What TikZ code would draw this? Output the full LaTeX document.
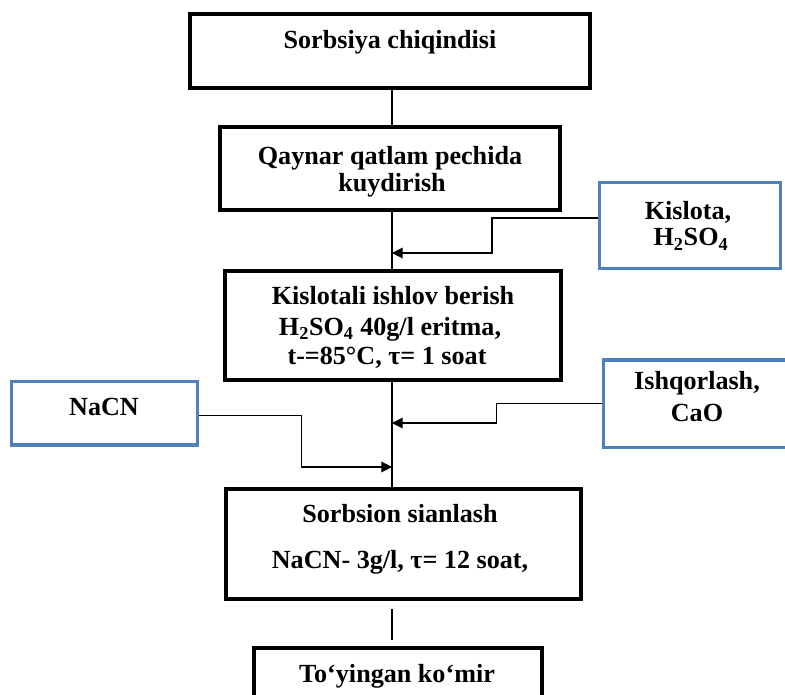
\documentclass[tikz,border=0pt]{standalone}
\usepackage{fontspec}
\setmainfont{Liberation Serif}
\usetikzlibrary{arrows.meta}
\definecolor{inblue}{RGB}{79,129,189}
\tikzset{every picture/.style={line width=0.75pt}}
\tikzset{
	stage/.style={draw=black, line width=3pt, inner sep=0pt},
	input/.style={draw=inblue, line width=2.4pt, inner sep=0pt},
	txt/.style={anchor=base, inner sep=0pt, font=\fontsize{19.6}{23}\selectfont\bfseries},
	flow/.style={draw=black, line width=0.9pt},
	feed/.style={flow, -{Triangle[length=8pt,width=8pt]}}
}

\begin{document}
\begin{tikzpicture}[x=0.75pt,y=0.75pt,yscale=-1,xscale=1]
	\useasboundingbox (0,0) rectangle (785,695);
	\clip (0,0) rectangle (785,695);

	%Process boxes
	\node[stage, minimum width=300pt, minimum height=55.5pt] (sorb) at (390,51) {};
	\node[stage, minimum width=255pt, minimum height=62.25pt] (kuyd) at (390,168.5) {};
	\node[stage, minimum width=252pt, minimum height=81.75pt] (kisl) at (393,325.5) {};
	\node[stage, minimum width=266.25pt, minimum height=82.5pt] (sian) at (403.5,544) {};
	\node[stage, minimum width=216pt, minimum height=69pt] (komir) at (398,694) {};

	%Input boxes
	\node[input, minimum width=135.75pt, minimum height=64.5pt] (acid) at (690,225.5) {};
	\node[input, minimum width=147.4pt, minimum height=65.6pt] (alk) at (701.75,403.75) {};
	\node[input, minimum width=139.5pt, minimum height=47.6pt] (nacn) at (104.5,413.25) {};

	%Texts
	\node[txt] (t1) at (390,49) {Sorbsiya chiqindisi};
	\node[txt] (t2a) at (390,165) {Qaynar qatlam pechida};
	\node[txt] (t2b) at (392,192) {kuydirish};
	\node[txt] (t3a) at (393,305) {Kislotali ishlov berish};
	\node[txt] (t3b) at (390,335) {H\textsubscript{2}SO\textsubscript{4} 40g/l eritma,};
	\node[txt] (t3c) at (387,364) {t-=85°C, τ= 1 soat};
	\node[txt] (t4a) at (400,522) {Sorbsion sianlash};
	\node[txt] (t4b) at (400,568) {NaCN- 3g/l, τ= 12 soat,};
	\node[txt] (t5) at (397,682) {To‘yingan ko‘mir};
	\node[txt] (tka) at (688,220) {Kislota,};
	\node[txt] (tkb) at (691,246) {H\textsubscript{2}SO\textsubscript{4}};
	\node[txt] (tia) at (697,389) {Ishqorlash,};
	\node[txt] (tib) at (697,421) {CaO};
	\node[txt] (tn) at (104,415) {NaCN};

	%Main line
	\coordinate (spine) at (392,0);
	\coordinate (jk) at (392,253);
	\coordinate (ji) at (392,423);
	\coordinate (jn) at (392,467);
	\draw[flow] (sorb.south -| spine) -- (kuyd.north -| spine);
	\draw[flow] (kuyd.south -| spine) -- (kisl.north -| spine);
	\draw[flow] (kisl.south -| spine) -- (sian.north -| spine);
	\draw[flow, shorten <=6pt, shorten >=4.5pt] (sian.south -| spine) -- (komir.north -| spine);

	%Feeds
	\draw[feed] ([yshift=-5.6pt]acid.west) -- ++(-106,0) |- (jk);
	\draw[feed] (alk.west) -- ++(-105.5,0) |- (ji);
	\draw[feed] ([yshift=1.6pt]nacn.east) -- ++(102.5,0) |- (jn);

\end{tikzpicture}
\end{document}
